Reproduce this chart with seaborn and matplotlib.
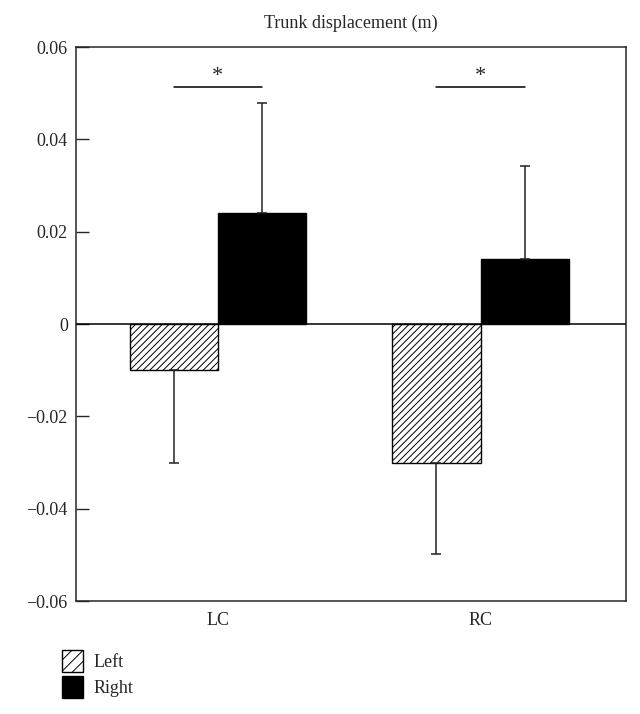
import numpy as np
import pandas as pd
import seaborn as sns
from matplotlib import pyplot as plt
from matplotlib.patches import Patch

conditions = ["LC", "RC"]
sides = ["Left", "Right"]
left_mean = [-0.010, -0.030]
right_mean = [0.024, 0.0142]
left_sd = [0.020, 0.0197]
right_sd = [0.024, 0.020]
sig_y = 0.0513

sns.set_style("ticks")
plt.rcParams["font.family"] = ["Liberation Serif", "DejaVu Serif"]
plt.rcParams["hatch.linewidth"] = 0.7

df = pd.DataFrame({
    "condition": conditions * 2,
    "side": ["Left"] * 2 + ["Right"] * 2,
    "value": left_mean + right_mean,
})

fig = plt.figure(figsize=(6.4, 7.14), dpi=100)
ax = fig.add_axes([0.119, 0.158, 0.859, 0.776])

sns.barplot(data=df, x="condition", y="value", hue="side", hue_order=sides,
            palette=["white", "black"], width=0.67, edgecolor="black",
            linewidth=1.0, legend=False, ax=ax, errorbar=None)

# hatch the Left bars, add one-sided error bars
bars = ax.patches
for p in bars[:2]:
    p.set_hatch("/////")
errs = left_sd + right_sd
means = left_mean + right_mean
for p, m, e in zip(bars, means, errs):
    xc = p.get_x() + p.get_width() / 2
    if m < 0:
        yerr = [[e], [0]]
    else:
        yerr = [[0], [e]]
    ax.errorbar(xc, m, yerr=yerr, color="#222222", lw=1.1, capsize=3.5,
                capthick=1.1, zorder=1)

# significance markers
for i in range(2):
    x0 = bars[i].get_x() + bars[i].get_width() / 2
    x1 = bars[i + 2].get_x() + bars[i + 2].get_width() / 2
    ax.plot([x0, x1], [sig_y, sig_y], color="black", lw=1.1)
    ax.text((x0 + x1) / 2, sig_y + 0.0002, "*", ha="center", va="bottom",
            fontsize=16)

ax.axhline(0, color="black", lw=1.1, zorder=3)
ax.set_ylim(-0.06, 0.06)
ax.set_xlim(-0.538, 1.553)
ax.set_yticks(np.arange(-0.06, 0.061, 0.02))
ax.set_yticklabels(["\u22120.06", "\u22120.04", "\u22120.02", "0", "0.02", "0.04", "0.06"])
ax.tick_params(axis="y", direction="in", length=9, width=1, labelsize=13, pad=6)
ax.tick_params(axis="x", length=0, labelsize=13, pad=8)
for s in ax.spines.values():
    s.set_visible(True)
    s.set_linewidth(1.1)
ax.set_xlabel("")
ax.set_ylabel("")
ax.set_title("Trunk displacement (m)", fontsize=13, pad=14)

handles = [Patch(facecolor="white", edgecolor="black", hatch="///", label="Left"),
           Patch(facecolor="black", edgecolor="black", label="Right")]
fig.legend(handles=handles, loc="upper left", bbox_to_anchor=(0.085, 0.1),
           frameon=False, fontsize=13, handlelength=1.2, handleheight=1.5,
           handletextpad=0.55, labelspacing=0.25, borderaxespad=0)

fig.savefig("out.png", dpi=100)
